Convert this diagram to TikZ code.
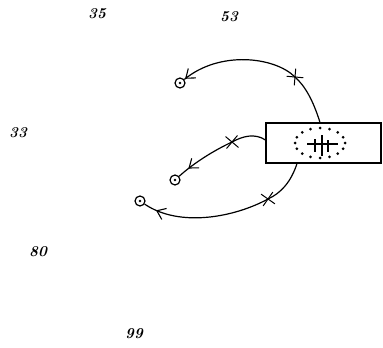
\documentclass[tikz,border=0pt]{standalone}
\usetikzlibrary{arrows.meta,decorations.markings,shapes.misc}
\begin{document}
\begin{tikzpicture}[x=1pt,y=-1pt,
  lbl/.style={font=\fontsize{15}{18}\selectfont\bfseries\itshape},
  cell/.style={circle,draw,line width=1.2pt,minimum size=10pt,inner sep=0pt},
  tick/.style={cross out,draw,line width=1pt,minimum size=11pt,inner sep=0pt},
  conn/.style={line width=1.2pt},
  arr/.style={postaction={decorate,decoration={markings,
      mark=at position #1 with {\arrow{Straight Barb[length=8pt,width=12pt,line width=1.1pt]}}}}}]
\useasboundingbox (0,0) rectangle (383,348);
% labels
\node[lbl] (l35) at (97,14) {35};
\node[lbl] (l53) at (229,17) {53};
\node[lbl] (l33) at (18,133) {33};
\node[lbl] (l80) at (38,252) {80};
\node[lbl] (l99) at (134,334) {99};
% box
\node[draw,line width=1.1pt,minimum width=115pt,minimum height=40pt,inner sep=0pt] (R) at (323.5,143) {};
\foreach \a in {0,22.5,...,337.5}
  \fill (320,143) ++(\a:25 and 15) circle (1.5pt);
\draw[line width=1.1pt] (307,144) -- (338,144);
\draw[line width=1.1pt] (315,139) -- (315,152);
\draw[line width=1.1pt] (322,135) -- (322,156);
\draw[line width=1.1pt] (328,140) -- (328,152);
% cells
\node[cell] (c1) at (180,83) {};
\node[cell] (c2) at (175,180) {};
\node[cell] (c3) at (140,201) {};
\foreach \c in {c1,c2,c3} \fill (\c.center) circle (1.4pt);
% crosses
\node[tick,rotate=40] (x1) at (295,77) {};
\node[tick,rotate=5] (x2) at (232,142) {};
\node[tick,rotate=10] (x3) at (268,199) {};
\coordinate (s1) at ([xshift=-3.5pt]R.north);
\coordinate (s2) at ([yshift=3pt]R.west);
\coordinate (s3) at ([xshift=-26.5pt]R.south);
% connectors
\draw[conn,arr=-1pt] (s1) .. controls (313,100) and (305,86) .. (x1.center)
   .. controls (275,57) and (220,50) .. (c1);
\draw[conn,arr=-12pt] (s2) .. controls (255,133) and (243,136) .. (x2.center)
   .. controls (215,150) and (195,162) .. (c2);
\draw[conn,arr=-13pt] (s3) .. controls (291,182) and (281,193) .. (x3.center)
   .. controls (235,217) and (180,228) .. (c3);
\end{tikzpicture}
\end{document}
